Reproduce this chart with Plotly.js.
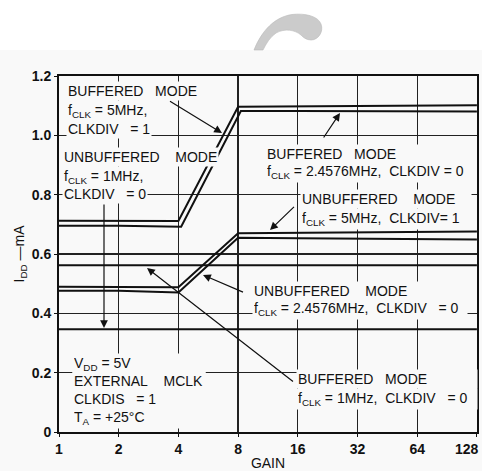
<!DOCTYPE html>
<html>
<head>
<meta charset="utf-8">
<script src="https://cdn.plot.ly/plotly-3.0.1.min.js"></script>
<style>html,body{margin:0;padding:0;background:#f9f9f9;overflow:hidden;}#chart{width:482px;height:471px;}</style>
</head>
<body>
<div id="chart"></div>
<script>
// ---- data ----
const gain = [1, 2, 4, 8, 16, 32, 64, 128];
// the lower line of the upper pair turns its corners slightly later
const gainLate = [1, 2, 4.13, 8.26, 16, 32, 64, 128];
const gainTicks = ['1', '2', '4', '8', '16', '32', '64', '128'];
const iddTicks = [0, 0.2, 0.4, 0.6, 0.8, 1.0, 1.2];
const iddTickText = ['0', '0.2', '0.4', '0.6', '0.8', '1.0', '1.2'];

const buffered5MHzDiv1      = [0.712, 0.712, 0.711, 1.096, 1.097, 1.098, 1.099, 1.101];
const buffered2457MHzDiv0   = [0.695, 0.695, 0.692, 1.082, 1.082, 1.081, 1.081, 1.080];
const unbuffered5MHzDiv1    = [0.490, 0.490, 0.488, 0.670, 0.672, 0.673, 0.675, 0.676];
const unbuffered2457MHzDiv0 = [0.476, 0.476, 0.470, 0.655, 0.653, 0.652, 0.650, 0.649];
const buffered1MHzDiv0      = [0.562, 0.562, 0.562, 0.562, 0.562, 0.562, 0.562, 0.562];
const unbuffered1MHzDiv0    = [0.346, 0.346, 0.346, 0.346, 0.346, 0.346, 0.346, 0.346];

const seriesNames = ['Buffered 5MHz CLKDIV=1', 'Buffered 2.4576MHz CLKDIV=0',
  'Unbuffered 5MHz CLKDIV=1', 'Unbuffered 2.4576MHz CLKDIV=0',
  'Buffered 1MHz CLKDIV=0', 'Unbuffered 1MHz CLKDIV=0'];
const seriesX = [gain, gainLate, gain, gain, gain, gain];
const seriesValues = [buffered5MHzDiv1, buffered2457MHzDiv0, unbuffered5MHzDiv1,
  unbuffered2457MHzDiv0, buffered1MHzDiv0, unbuffered1MHzDiv0];

// ---- layout helpers ----
const W = 482, H = 471;
const M = {l: 59, r: 5, t: 76, b: 39};
const PW = W - M.l - M.r, PH = H - M.t - M.b;
const BG = '#f9f9f9';
const FONT = 'Liberation Sans, Arial, sans-serif';
const px2x = px => (px - M.l) / PW;
const py2y = py => (H - M.b - py) / PH;
const TICKFONT = {family: FONT, size: 14, color: '#111', weight: 'bold'};

const traces = seriesValues.map((v, i) => ({
  type: 'scatter', mode: 'lines', x: seriesX[i], y: v, name: seriesNames[i],
  line: {color: '#111', width: 2}, showlegend: false, hoverinfo: 'skip'
}));

const annotations = [];
function block(lines, left, capsTop, pitch, width) {
  lines.forEach((t, i) => {
    const a = {
      xref: 'paper', yref: 'paper', x: px2x(left - 2), y: py2y(capsTop + i * pitch - 4),
      xanchor: 'left', yanchor: 'top', align: 'left', text: t, showarrow: false,
      bgcolor: BG, borderpad: 1, font: {family: FONT, size: 14, color: '#111'}
    };
    if (width) a.width = width;
    annotations.push(a);
  });
}
const sp = n => '\u00a0'.repeat(n);
block(['BUFFERED' + sp(3) + 'MODE', 'f<sub>CLK</sub> = 5MHz,', 'CLKDIV' + sp(2) + ' = 1'], 68, 85, 19);
block(['UNBUFFERED' + sp(4) + 'MODE', 'f<sub>CLK</sub> = 1MHz,', 'CLKDIV' + sp(2) + ' = 0'], 64, 151, 18.7);
block(['BUFFERED' + sp(3) + 'MODE', 'f<sub>CLK</sub> = 2.4576MHz,' + sp(2) + 'CLKDIV = 0'], 267, 147.5, 17, 206);
block(['UNBUFFERED' + sp(4) + 'MODE', 'f<sub>CLK</sub> = 5MHz,' + sp(2) + 'CLKDIV= 1'], 302, 193, 19, 168);
block(['UNBUFFERED' + sp(4) + 'MODE', 'f<sub>CLK</sub> = 2.4576MHz,' + sp(2) + 'CLKDIV' + sp(2) + ' = 0'], 254, 285, 17, 212);
block(['BUFFERED' + sp(3) + 'MODE', 'f<sub>CLK</sub> = 1MHz,' + sp(2) + 'CLKDIV' + sp(2) + ' = 0'], 298, 373, 19, 178);
block(['V<sub>DD</sub> = 5V', 'EXTERNAL' + sp(4) + 'MCLK', 'CLKDIS' + sp(2) + ' = 1', 'T<sub>A</sub> = +25°C'], 74, 357, 18, 130);

// the last x tick label sits against the right edge: draw it right-anchored so it stays whole
const xTickText = gainTicks.slice(0, -1).concat(['']);
annotations.push({
  xref: 'paper', yref: 'paper', x: px2x(481), y: py2y(439), xanchor: 'right', yanchor: 'top',
  text: gainTicks[gainTicks.length - 1], showarrow: false, font: TICKFONT
});

function arrow(tailX, tailY, tipX, tipY) {
  annotations.push({
    xref: 'paper', yref: 'paper', x: px2x(tipX), y: py2y(tipY),
    ax: tailX - tipX, ay: tailY - tipY, text: ' ', showarrow: true,
    font: {size: 2, color: 'rgba(0,0,0,0)'},
    arrowhead: 2, arrowsize: 1.3, arrowwidth: 1.2, arrowcolor: '#111', standoff: 0
  });
}
arrow(168, 100, 222, 133);
arrow(104, 202, 104, 328);
arrow(322, 140, 340, 113);
arrow(296, 205, 270, 230);
arrow(245, 293, 203, 275);
arrow(295, 383, 147, 268);

function pathPx(cmds) {
  return cmds.map(c => typeof c === 'string' ? c : px2x(c[0]) + ',' + py2y(c[1])).join(' ');
}
const arcPath = pathPx(['M', [254, 50], 'C', [262, 30], [275, 17], [292, 14.5],
  'C', [305, 13], [318, 16], [321, 24], 'C', [324, 32], [318, 40], [311, 40],
  'C', [306, 40], [303, 37], [301, 35], 'C', [295, 30], [285, 28], [276, 33],
  'C', [270, 37], [266, 44], [263, 50], 'Z']);

const shapes = [
  {type: 'rect', xref: 'paper', yref: 'paper', x0: px2x(0), x1: px2x(W), y0: py2y(50), y1: py2y(0),
   fillcolor: '#ffffff', line: {width: 0}, layer: 'below'},
  {type: 'path', xref: 'paper', yref: 'paper', path: arcPath,
   fillcolor: '#cbcbcb', line: {color: '#b8b8b8', width: 0.6}}
];

const layout = {
  width: W, height: H, margin: M,
  paper_bgcolor: BG, plot_bgcolor: BG,
  font: {family: FONT, color: '#111'},
  xaxis: {
    type: 'log', range: [0, Math.log10(128) + 0.0005], tickvals: gain, ticktext: xTickText,
    showgrid: true, gridcolor: '#222', gridwidth: 1.3,
    showline: true, linecolor: '#111', linewidth: 2, mirror: true,
    ticks: 'outside', ticklen: 3, tickcolor: '#111',
    tickfont: TICKFONT,
    title: {text: 'GAIN', font: {family: FONT, size: 14, color: '#111'}, standoff: 7},
    zeroline: false, fixedrange: true
  },
  yaxis: {
    range: [0, 1.2], tickvals: iddTicks, ticktext: iddTickText,
    showgrid: true, gridcolor: '#222', gridwidth: 1.3,
    showline: true, linecolor: '#111', linewidth: 2, mirror: true,
    ticks: 'outside', ticklen: 3, tickcolor: '#111',
    tickfont: TICKFONT,
    title: {text: 'I<sub>DD</sub> —mA', font: {family: FONT, size: 14, color: '#111'}, standoff: 4},
    zeroline: false, fixedrange: true
  },
  annotations: annotations,
  shapes: shapes,
  showlegend: false
};

Plotly.newPlot('chart', traces, layout, {displayModeBar: false, staticPlot: true});
</script>
</body>
</html>
